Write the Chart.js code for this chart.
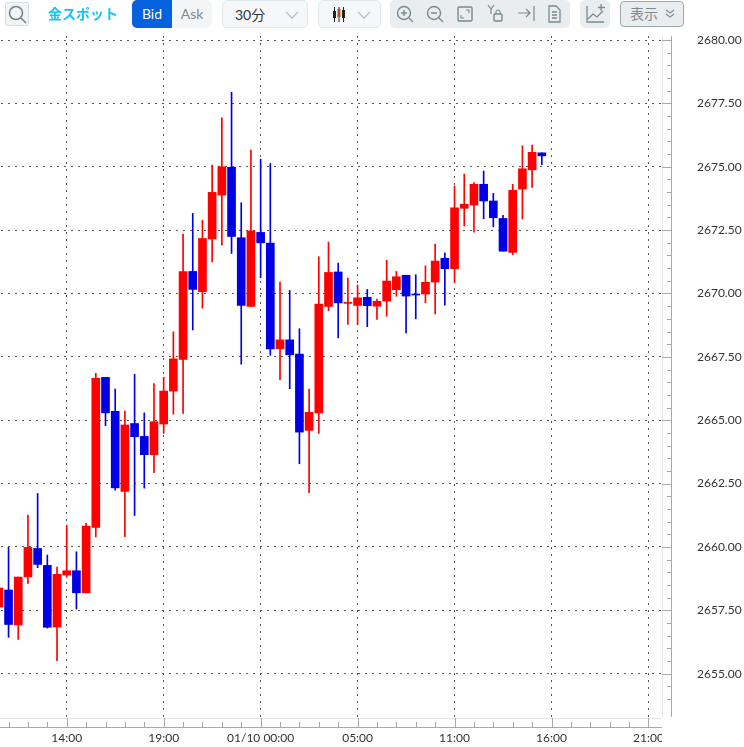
<!DOCTYPE html>
<html>
<head>
<meta charset="utf-8">
<script src="https://cdn.jsdelivr.net/npm/chart.js@4"></script>
<style>
  html, body { margin: 0; padding: 0; background: #fff; overflow: hidden; }
  body { width: 744px; height: 747px; position: relative; font-family: Lato, "Noto Sans CJK JP", sans-serif; }
  #chart { position: absolute; left: -6px; top: 0; }
  #axisEnd { position: absolute; left: 662px; top: 728px; width: 82px; height: 19px; background: #fff; }
  .tool { position: absolute; box-sizing: border-box; font-size: 14px; }
  .tool svg { display: block; }
</style>
</head>
<body>
<canvas id="chart" width="750" height="747"></canvas>
<div id="axisEnd"></div>

<div class="tool" style="left:5px;top:2px;width:24px;height:24px;background:#f1f4f5;border:1px solid #d5e0e4;border-radius:2px">
  <svg width="22" height="22" viewBox="0 0 22 22" fill="none" stroke="#6f8288" stroke-width="1.5"><circle cx="10" cy="10" r="6.5"/><path d="M15 15l5 5"/></svg>
</div>
<div class="tool" style="left:48px;top:5px;color:#19c3f4;font-weight:700;font-size:14px;line-height:18px">金スポット</div>
<div class="tool" style="left:132px;top:0;width:40px;height:28px;background:#0561dc;color:#fff;border-radius:5px 0 0 5px;text-align:center;line-height:28px">Bid</div>
<div class="tool" style="left:172px;top:0;width:40px;height:28px;background:#f3f5f7;color:#7d8a90;border-radius:0 5px 5px 0;text-align:center;line-height:28px">Ask</div>
<div class="tool" style="left:222px;top:0;width:86px;height:28px;background:#f5f7f8;border:1px solid #e1e8ec;border-radius:5px;color:#333;line-height:27px;padding-left:12px">30分
  <svg style="position:absolute;left:62px;top:9px" width="14" height="10" fill="none" stroke="#b5bfc3" stroke-width="1.3"><path d="M1 2l6 6 6-6"/></svg>
</div>
<div class="tool" style="left:318px;top:0;width:63px;height:28px;background:#f5f7f8;border:1px solid #e1e8ec;border-radius:5px">
  <svg style="position:absolute;left:13px;top:6px" width="14" height="15"><path d="M2.5 0v15M7 0v15M11.5 0v15" stroke="#222" stroke-width="1"/><rect x="1" y="4" width="3" height="7" fill="#222"/><rect x="5.5" y="2" width="3" height="8" fill="#b5521c"/><rect x="10" y="3" width="3" height="8" fill="#222"/></svg>
  <svg style="position:absolute;left:38px;top:9px" width="14" height="10" fill="none" stroke="#b5bfc3" stroke-width="1.3"><path d="M1 2l6 6 6-6"/></svg>
</div>
<div class="tool" style="left:390px;top:0;width:180px;height:28px;background:#e9edef;border-radius:5px">
  <svg width="180" height="28" fill="none" stroke="#7a8b8f" stroke-width="1.4">
    <circle cx="14" cy="13" r="6.5"/><path d="M19 18l4 4M11 13h6M14 10v6"/>
    <circle cx="44" cy="13" r="6.5"/><path d="M49 18l4 4M41 13h6"/>
    <rect x="68" y="7" width="14" height="14" rx="1"/><path d="M71 15v3h3M79 13v-3h-3" stroke-width="1.1"/>
    <path d="M98 5l3 4 3-4M101 9v5" stroke-width="1.2"/><rect x="104" y="14" width="8" height="7" rx="1"/><path d="M106 14v-2a2 2 0 0 1 4 0v2" stroke-width="1.1"/>
    <path d="M128 13h12M136 9l4 4-4 4M144 6v15" stroke-width="1.2"/>
    <path d="M159 6h7l4 4v12h-11zM162 12h5M162 15h5M162 18h5" stroke-width="1.3"/>
  </svg>
</div>
<div class="tool" style="left:580px;top:0;width:30px;height:28px;background:#e9edef;border-radius:5px">
  <svg width="30" height="28" fill="none" stroke="#7a8b8f" stroke-width="1.3"><path d="M7 6v16h17M8 19l5-5 4 3 6-6M21 4v7M18 7.5h7"/></svg>
</div>
<div class="tool" style="left:620px;top:1px;width:64px;height:26px;background:#e9edef;border:1px solid #a0aaaa;border-radius:4px;color:#7d8a8a;line-height:24px;padding-left:9px">表示
  <svg style="position:absolute;left:44px;top:7px" width="10" height="10" fill="none" stroke="#7f9094" stroke-width="1.2"><path d="M1 1l4 3 4-3M1 5l4 3 4-3"/></svg>
</div>

<script>
const timeLabels = ['10:30','11:00','11:30','12:00','12:30','13:00','13:30','14:00','14:30','15:00','15:30',
  '16:00','16:30','17:00','17:30','18:00','18:30','19:00','19:30','20:00','20:30','21:00','21:30','22:00','22:30',
  '23:00','23:30','01/10 00:00','00:30','01:00','01:30','02:00','02:30','03:00','03:30','04:00','04:30','05:00',
  '05:30','07:00','07:30','08:00','08:30','09:00','09:30','10:00','10:30','11:00','11:30','12:00','12:30',
  '13:00','13:30','14:00','14:30','15:00','15:30','16:00','16:30','17:00','17:30','18:00','18:30','19:00','19:30',
  '20:00','20:30','21:00','21:30'];
// position of the labelled candles inside timeLabels
const labelledSlots = [7, 17, 27, 37, 47, 57, 67];

const opens = [2657.63,2658.30,2656.92,2658.82,2659.94,2659.27,2656.84,2658.89,2659.06,2658.19,2660.77,2666.69,2665.35,2662.19,2664.87,2664.36,2663.64,2664.85,2666.15,2667.40,2670.87,2670.07,2672.15,2673.88,2674.98,2672.20,2669.49,2672.41,2671.99,2667.82,2668.17,2667.61,2664.60,2665.29,2669.49,2670.85,2669.61,2669.53,2669.85,2669.50,2669.70,2670.15,2670.72,2669.98,2669.98,2670.45,2671.39,2670.98,2673.36,2673.49,2674.31,2673.65,2672.96,2671.62,2674.12,2674.88,2675.55];
const closes = [2658.38,2656.94,2658.81,2659.98,2659.31,2656.83,2658.92,2659.06,2658.19,2660.82,2666.65,2665.29,2662.33,2664.81,2664.35,2663.64,2664.94,2666.15,2667.42,2670.86,2670.16,2672.17,2673.99,2675.00,2672.25,2669.53,2672.47,2672.00,2667.81,2668.17,2667.58,2664.53,2665.31,2669.58,2670.83,2669.63,2669.65,2669.83,2669.52,2669.69,2670.49,2670.66,2669.90,2669.94,2670.44,2671.28,2670.98,2673.38,2673.52,2674.31,2673.65,2672.99,2671.67,2674.07,2674.92,2675.57,2675.43];
const highs = [2658.38,2659.98,2658.81,2661.26,2662.11,2659.68,2659.20,2660.86,2659.81,2660.93,2666.85,2666.69,2666.23,2665.36,2666.81,2665.29,2666.45,2666.69,2668.49,2672.34,2673.16,2672.89,2675.07,2676.93,2677.94,2673.58,2675.66,2675.30,2675.13,2670.45,2670.12,2668.61,2666.23,2671.45,2672.03,2671.20,2670.61,2670.33,2670.16,2669.78,2671.31,2670.87,2670.72,2670.74,2671.09,2671.95,2671.60,2674.24,2674.71,2674.38,2674.83,2673.95,2673.08,2674.31,2675.83,2675.86,2675.55];
const lows = [2657.63,2656.43,2656.35,2658.56,2659.18,2656.80,2655.51,2658.80,2657.55,2658.19,2660.40,2664.78,2662.24,2660.40,2661.24,2662.32,2662.93,2664.48,2665.24,2665.27,2668.56,2669.42,2671.25,2671.91,2671.58,2667.21,2669.49,2670.62,2667.56,2666.60,2666.24,2663.28,2662.14,2664.48,2669.32,2668.25,2668.78,2668.77,2668.69,2668.98,2669.10,2669.89,2668.44,2669.00,2669.63,2669.19,2669.54,2670.42,2672.66,2672.42,2672.95,2672.63,2671.67,2671.53,2672.94,2674.19,2675.08];

const upColor = '#ff0000';
const downColor = '#0000e6';
const barColors = opens.map((o, i) => closes[i] >= o ? upColor : downColor);
const gridDash = [2, 5];
const gridColor = '#555';

// the little ruler bands along the right and the bottom of the plot
const axisBands = {
  id: 'axisBands',
  afterDraw(chart) {
    const { ctx, chartArea, scales } = chart;
    const { right, top, bottom, left } = chartArea;
    ctx.save();
    ctx.lineWidth = 1;

    ctx.strokeStyle = '#e6e6e6';
    ctx.beginPath();
    ctx.moveTo(left, bottom + 0.5);
    ctx.lineTo(right - 1, bottom + 0.5);
    ctx.moveTo(right - 0.5, top);
    ctx.lineTo(right - 0.5, bottom - 1);
    ctx.stroke();

    ctx.strokeStyle = '#a8a8a8';
    ctx.beginPath();
    ctx.moveTo(left, bottom + 9.5);
    ctx.lineTo(right - 1, bottom + 9.5);
    ctx.moveTo(right + 8.5, top);
    ctx.lineTo(right + 8.5, bottom - 1);
    for (let i = 1; i < timeLabels.length; i += 2) {
      const x = Math.round(scales.x.getPixelForValue(i)) + 0.5;
      ctx.moveTo(x, bottom + (labelledSlots.includes(i) ? 0 : 4));
      ctx.lineTo(x, bottom + 9);
    }
    for (let v = 2654; v <= 2680; v += 0.5) {
      const y = Math.round(scales.y.getPixelForValue(v)) + 0.5;
      ctx.moveTo(right + (v % 2.5 === 0 ? -1 : 4), y);
      ctx.lineTo(right + 8, y);
    }
    ctx.stroke();
    ctx.restore();
  }
};

new Chart(document.getElementById('chart'), {
  type: 'bar',
  data: {
    labels: timeLabels,
    datasets: [
      {
        label: 'body',
        data: opens.map((o, i) => [o, closes[i]]),
        backgroundColor: barColors,
        barThickness: 8,
        order: 1
      },
      {
        label: 'wick',
        data: lows.map((l, i) => [l, highs[i]]),
        backgroundColor: barColors,
        barThickness: 1,
        order: 2
      }
    ]
  },
  options: {
    responsive: false,
    animation: false,
    layout: { padding: { top: 36 } },
    plugins: { legend: { display: false }, tooltip: { enabled: false } },
    datasets: { bar: { grouped: false } },
    scales: {
      x: {
        offset: true,
        grid: {
          offset: false,
          drawTicks: false,
          lineWidth: 1,
          color: ctx => labelledSlots.includes(ctx.index) ? gridColor : 'rgba(0,0,0,0)'
        },
        border: { display: false, dash: gridDash },
        afterFit: scale => {
          scale.height = 29;
          scale.paddingLeft = 0;
          scale.paddingRight = 0;
        },
        ticks: {
          autoSkip: false,
          maxRotation: 0,
          padding: 13,
          color: '#333',
          font: { family: 'Lato', size: 12 },
          callback: function (value, index) {
            return labelledSlots.includes(index) ? this.getLabelForValue(value) : '';
          }
        }
      },
      y: {
        position: 'right',
        min: 2653.25,
        max: 2680.16,
        grid: { drawTicks: false, color: gridColor, lineWidth: 1 },
        border: { display: false, dash: gridDash },
        afterFit: scale => {
          scale.width = 81;
          scale.paddingTop = 0;
          scale.paddingBottom = 0;
        },
        ticks: {
          stepSize: 2.5,
          includeBounds: false,
          autoSkip: false,
          padding: 34,
          color: '#333',
          font: { family: 'Lato', size: 12 },
          callback: value => value.toFixed(2)
        }
      }
    }
  },
  plugins: [axisBands]
});
</script>
</body>
</html>
